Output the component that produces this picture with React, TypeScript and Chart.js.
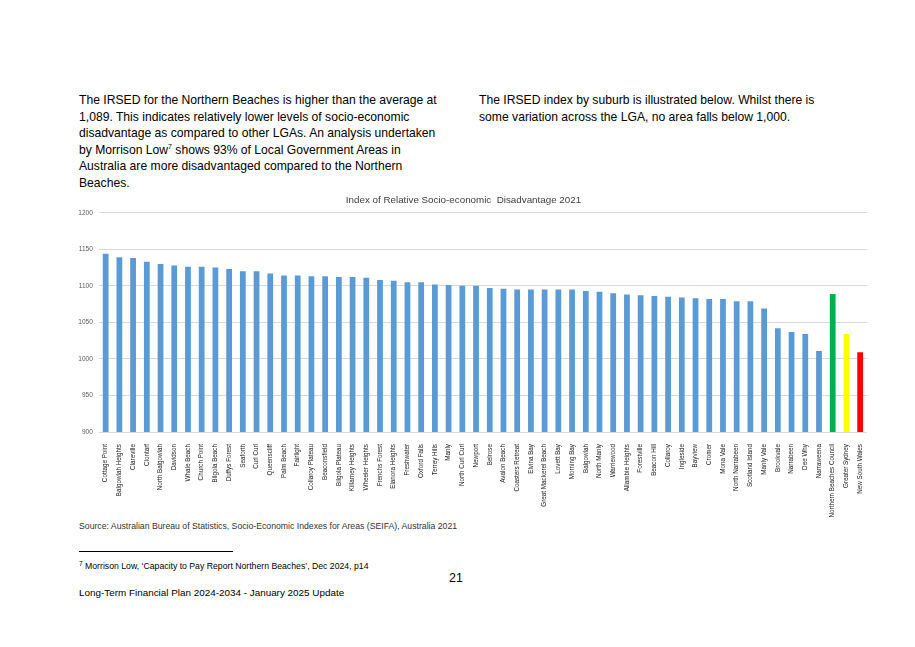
import React, { useEffect, useRef } from "react";
import { Chart, registerables } from "chart.js";

Chart.register(...registerables);

const categories: string[] = [
  "Cottage Point", "Balgowlah Heights", "Clareville", "Clontarf", "North Balgowlah",
  "Davidson", "Whale Beach", "Church Point", "Bilgola Beach", "Duffys Forest",
  "Seaforth", "Curl Curl", "Queenscliff", "Palm Beach", "Fairlight",
  "Collaroy Plateau", "Beaconsfield", "Bilgola Plateau", "Killarney Heights", "Wheeler Heights",
  "Frenchs Forest", "Elanora Heights", "Freshwater", "Oxford Falls", "Terrey Hills",
  "Manly", "North Curl Curl", "Newport", "Belrose", "Avalon Beach",
  "Coasters Retreat", "Elvina Bay", "Great Mackerel Beach", "Lovett Bay", "Morning Bay",
  "Balgowlah", "North Manly", "Warriewood", "Allambie Heights", "Forestville",
  "Beacon Hill", "Collaroy", "Ingleside", "Bayview", "Cromer",
  "Mona Vale", "North Narrabeen", "Scotland Island", "Manly Vale", "Brookvale",
  "Narrabeen", "Dee Why", "Narraweena", "Northern Beaches Council", "Greater Sydney",
  "New South Wales",
];

const irsedValues: number[] = [
  1144, 1139, 1138, 1133, 1130,
  1128, 1126, 1126, 1125, 1123,
  1120, 1120, 1117, 1114, 1114,
  1113, 1113, 1112, 1112, 1111,
  1108, 1107, 1105, 1105, 1102,
  1101, 1100, 1100, 1097, 1096,
  1095, 1095, 1095, 1095, 1095,
  1093, 1092, 1090, 1088, 1087,
  1086, 1085, 1084, 1083, 1082,
  1082, 1079, 1079, 1069, 1042,
  1037, 1034, 1011, 1089, 1034,
  1009,
];

const yTicks: number[] = [900, 950, 1000, 1050, 1100, 1150, 1200];

const chartTitle = "Index of Relative Socio-economic  Disadvantage 2021";

const defaultBarColor = "#5B9BD5";
const highlightColors: Record<string, string> = {
  "Northern Beaches Council": "#00B050",
  "Greater Sydney": "#FFFF00",
  "New South Wales": "#FF0000",
};

function IrsedChart() {
  const ref = useRef<HTMLCanvasElement | null>(null);
  useEffect(() => {
    if (!ref.current) return;
    const colors = categories.map((c) => highlightColors[c] || defaultBarColor);
    const chart = new Chart(ref.current, {
      type: "bar",
      data: {
        labels: categories,
        datasets: [
          {
            data: irsedValues,
            backgroundColor: colors,
            borderWidth: 0,
            categoryPercentage: 1,
            barPercentage: 0.42,
          },
        ],
      },
      options: {
        animation: false,
        responsive: false,
        maintainAspectRatio: false,
        layout: { padding: { left: 0, right: 13, top: 0, bottom: 0 } },
        plugins: {
          legend: { display: false },
          tooltip: { enabled: false },
          title: {
            display: true,
            text: chartTitle,
            color: "#404040",
            font: { family: "Liberation Sans, Arial, sans-serif", size: 9.8, weight: "normal" },
            padding: { top: 4, bottom: 7 },
          },
        },
        scales: {
          x: {
            offset: true,
            grid: { display: false },
            border: { display: false },
            ticks: {
              autoSkip: false,
              maxRotation: 90,
              minRotation: 90,
              padding: 4,
              color: "#1a1a1a",
              font: { family: "Liberation Sans, Arial, sans-serif", size: 6.3 },
            },
            afterFit: (scale: any) => {
              scale.height = 88;
            },
          },
          y: {
            min: 900,
            max: 1200,
            afterBuildTicks: (scale: any) => {
              scale.ticks = yTicks.map((v) => ({ value: v }));
            },
            grid: { color: "#D9D9D9", lineWidth: 1, drawTicks: false },
            border: { display: false },
            ticks: {
              padding: 6,
              color: "#595959",
              font: { family: "Liberation Sans, Arial, sans-serif", size: 6.5 },
              callback: (v: any) => String(v),
            },
            afterFit: (scale: any) => {
              scale.width = 38.8;
            },
          },
        },
      },
    });
    return () => chart.destroy();
  }, []);
  return (
    <canvas
      ref={ref}
      width={820}
      height={330}
      style={{ position: "absolute", left: 60, top: 190, width: 820, height: 330 }}
    />
  );
}

const bodyFont = "'Liberation Sans', Arial, sans-serif";

export default function App() {
  return (
    <div
      style={{
        position: "absolute",
        left: 0,
        top: 0,
        width: 915,
        height: 647,
        background: "#ffffff",
        fontFamily: bodyFont,
        color: "#000",
        overflow: "hidden",
      }}
    >
      <div
        style={{
          position: "absolute",
          left: 79,
          top: 92,
          fontSize: 12.15,
          lineHeight: "16.6px",
          whiteSpace: "nowrap",
        }}
      >
        The IRSED for the Northern Beaches is higher than the average at
        <br />
        1,089. This indicates relatively lower levels of socio-economic
        <br />
        disadvantage as compared to other LGAs. An analysis undertaken
        <br />
        by Morrison Low<sup style={{ fontSize: 7, verticalAlign: "top", lineHeight: "10px" }}>7</sup> shows 93% of Local Government Areas in
        <br />
        Australia are more disadvantaged compared to the Northern
        <br />
        Beaches.
      </div>
      <div
        style={{
          position: "absolute",
          left: 479,
          top: 92,
          fontSize: 12.15,
          lineHeight: "16.6px",
          whiteSpace: "nowrap",
        }}
      >
        The IRSED index by suburb is illustrated below. Whilst there is
        <br />
        some variation across the LGA, no area falls below 1,000.
      </div>

      <IrsedChart />

      <div
        style={{
          position: "absolute",
          left: 79,
          top: 520,
          fontSize: 8.7,
          lineHeight: "12px",
          color: "#333333",
          whiteSpace: "nowrap",
        }}
      >
        Source: Australian Bureau of Statistics, Socio-Economic Indexes for Areas (SEIFA), Australia 2021
      </div>
      <div
        style={{
          position: "absolute",
          left: 79,
          top: 551,
          width: 154,
          height: 1,
          background: "#000",
        }}
      />
      <div
        style={{
          position: "absolute",
          left: 79,
          top: 560,
          fontSize: 8.7,
          lineHeight: "12px",
          whiteSpace: "nowrap",
        }}
      >
        <span style={{ fontSize: 6.5, verticalAlign: "top", lineHeight: "8px" }}>7</span> Morrison Low, ‘Capacity to Pay Report Northern Beaches’, Dec 2024, p14
      </div>
      <div
        style={{
          position: "absolute",
          left: 449,
          top: 570,
          fontSize: 12.4,
          lineHeight: "16px",
        }}
      >
        21
      </div>
      <div
        style={{
          position: "absolute",
          left: 79,
          top: 586,
          fontSize: 9.9,
          lineHeight: "14px",
          whiteSpace: "nowrap",
        }}
      >
        Long-Term Financial Plan 2024-2034 - January 2025 Update
      </div>
    </div>
  );
}
